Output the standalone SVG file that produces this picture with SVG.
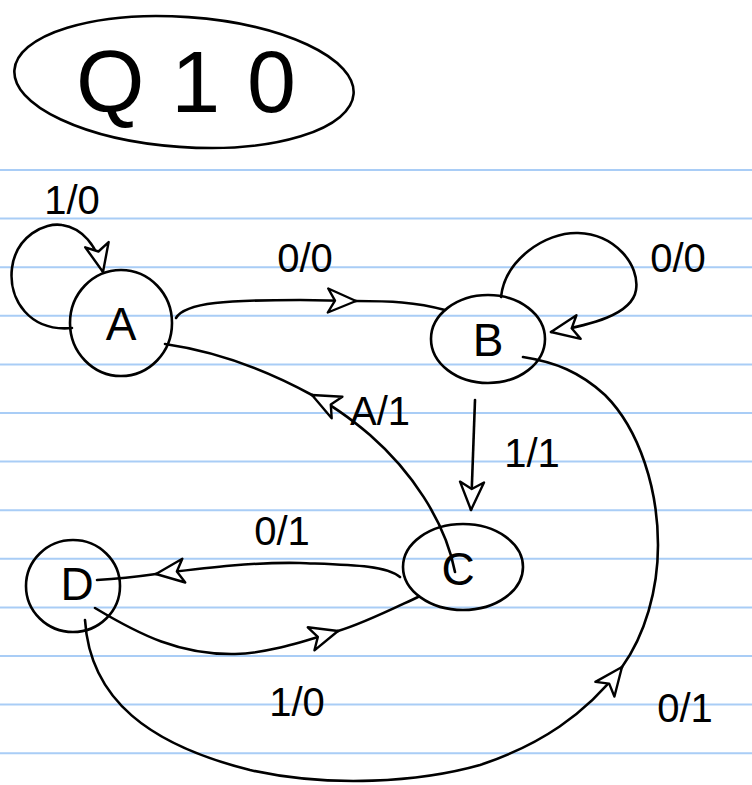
<svg xmlns="http://www.w3.org/2000/svg" width="752" height="785" viewBox="0 0 752 785">
<style>
.rule{stroke:#a9cdf6;stroke-width:2}
.ink{fill:none;stroke:#000;stroke-width:2.6;stroke-linecap:round;stroke-linejoin:round}
.st{fill:none;stroke:#000;stroke-width:2.6}
.lbl{font-family:"Liberation Sans",Arial,sans-serif;font-size:40px;fill:#000;text-anchor:middle}
.nl{font-family:"Liberation Sans",Arial,sans-serif;font-size:46px;fill:#000;text-anchor:middle}
</style>
<defs>
<marker id="ah" viewBox="-2 -2 32 28" refX="28" refY="12" markerWidth="32" markerHeight="28" markerUnits="userSpaceOnUse" orient="auto">
<path d="M0,0 L28,12 L0,24 L7,12 Z" fill="#fff" stroke="#000" stroke-width="2.4" stroke-linejoin="round"/>
</marker>
</defs>
<rect width="752" height="785" fill="#fff"/>
<g id="paper">
<line class="rule" x1="0" y1="170" x2="752" y2="170"/>
<line class="rule" x1="0" y1="218.6" x2="752" y2="218.6"/>
<line class="rule" x1="0" y1="267.2" x2="752" y2="267.2"/>
<line class="rule" x1="0" y1="315.8" x2="752" y2="315.8"/>
<line class="rule" x1="0" y1="364.4" x2="752" y2="364.4"/>
<line class="rule" x1="0" y1="413" x2="752" y2="413"/>
<line class="rule" x1="0" y1="461.6" x2="752" y2="461.6"/>
<line class="rule" x1="0" y1="510.2" x2="752" y2="510.2"/>
<line class="rule" x1="0" y1="558.8" x2="752" y2="558.8"/>
<line class="rule" x1="0" y1="607.4" x2="752" y2="607.4"/>
<line class="rule" x1="0" y1="656" x2="752" y2="656"/>
<line class="rule" x1="0" y1="704.6" x2="752" y2="704.6"/>
<line class="rule" x1="0" y1="753.2" x2="752" y2="753.2"/>
</g>
<g id="title">
<ellipse class="st" cx="184" cy="82" rx="170" ry="65" transform="rotate(4 184 82)"/>
<text x="186" y="112" font-family="'Liberation Sans',Arial,sans-serif" font-size="88" text-anchor="middle" textLength="220" lengthAdjust="spacing">Q10</text>
</g>
<g id="connectors">
<path class="ink" d="M72,328 C30,332 8,300 12,268 C16,236 45,222 62,225 C82,228 97,245 103,272" marker-end="url(#ah)"/>
<path class="ink" d="M176,318 C185,302 230,300 300,300 L356,301" marker-end="url(#ah)"/>
<path class="ink" d="M356,301 C390,301 415,302 445,310"/>
<path class="ink" d="M501,297 C505,260 545,232 578,233 C615,234 640,265 636,290 C632,315 590,325 551,332" marker-end="url(#ah)"/>
<path class="ink" d="M475,400 L471,510" marker-end="url(#ah)"/>
<path class="ink" d="M455,572 C445,520 410,470 370,435 C350,418 330,404 312,395" marker-end="url(#ah)"/>
<path class="ink" d="M312,395 C270,372 220,352 165,344"/>
<path class="ink" d="M400,577 C385,565 350,565 300,563 C250,562 205,568 156,574" marker-end="url(#ah)"/>
<path class="ink" d="M156,574 C135,577 115,579 97,580"/>
<path class="ink" d="M95,608 C140,635 180,655 235,654 C270,653 300,642 338,631" marker-end="url(#ah)"/>
<path class="ink" d="M338,631 C362,624 390,610 418,597"/>
<path class="ink" d="M85,620 C90,700 150,745 250,770 C330,788 420,782 480,765 C540,745 585,715 622,667" marker-end="url(#ah)"/>
<path class="ink" d="M622,667 C645,635 658,590 658,545 C658,490 640,430 605,395 C580,372 555,362 523,357"/>
</g>
<g id="node-A">
<ellipse class="st" cx="121" cy="323" rx="51" ry="53"/>
<text class="nl" x="121" y="340">A</text>
</g>
<g id="node-B">
<ellipse class="st" cx="488" cy="339" rx="57" ry="44"/>
<text class="nl" x="488" y="356">B</text>
</g>
<g id="node-C">
<ellipse class="st" cx="463" cy="567" rx="60" ry="43"/>
<text class="nl" x="458" y="585">C</text>
</g>
<g id="node-D">
<ellipse class="st" cx="73" cy="586" rx="47" ry="46"/>
<text class="nl" x="77" y="600">D</text>
</g>
<g id="labels">
<text class="lbl" x="72" y="214">1/0</text>
<text class="lbl" x="305" y="272">0/0</text>
<text class="lbl" x="678" y="272">0/0</text>
<text class="lbl" x="380" y="425">A/1</text>
<text class="lbl" x="532" y="467">1/1</text>
<text class="lbl" x="282" y="545">0/1</text>
<text class="lbl" x="297" y="716">1/0</text>
<text class="lbl" x="685" y="722">0/1</text>
</g>
</svg>
